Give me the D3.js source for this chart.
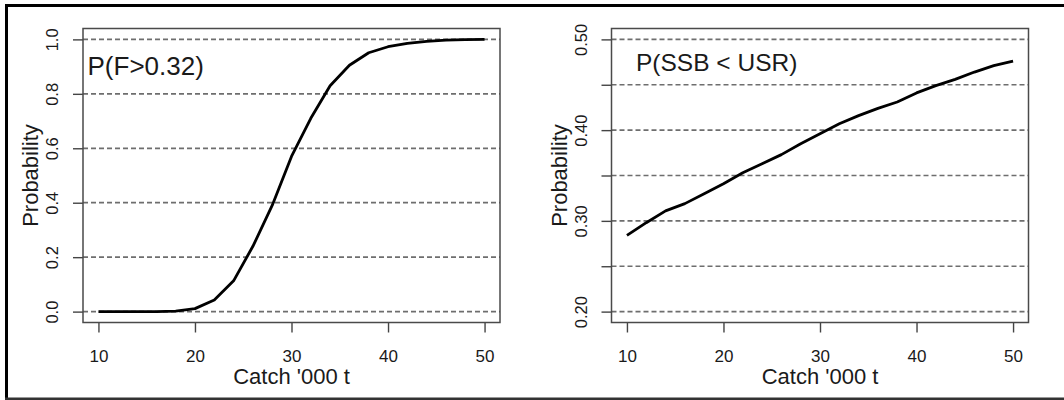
<!DOCTYPE html>
<html><head><meta charset="utf-8">
<script src="https://cdn.jsdelivr.net/npm/d3@7"></script>
<style>body{margin:0;background:#fff}svg{display:block}text{font-family:"Liberation Sans",Arial,sans-serif;fill:#1a1a1a}</style>
</head><body><svg id="c" width="1064" height="400"></svg>
<script>
const catchVals = [10,12,14,16,18,20,22,24,26,28,30,32,34,36,38,40,42,44,46,48,50];
const pF = [0,0,0,0,0.002,0.011,0.043,0.113,0.24,0.39,0.57,0.71,0.83,0.905,0.951,0.973,0.985,0.993,0.997,0.999,1.0];
const pSSB = [0.284,0.298,0.311,0.319,0.330,0.341,0.353,0.363,0.373,0.385,0.396,0.407,0.416,0.424,0.431,0.441,0.449,0.456,0.464,0.471,0.476];
const xTicks = [10,20,30,40,50];
const yTicksL = [0,0.2,0.4,0.6,0.8,1.0];
const gridL = [0,0.2,0.4,0.6,0.8,1.0];
const yTicksR = [0.20,0.25,0.30,0.35,0.40,0.45,0.50];
const yLabelsR = [0.20,0.30,0.40,0.50];
const titles = ["P(F>0.32)","P(SSB < USR)"];

const svg = d3.select("#c");
// outer frame
svg.append("line").attr("x1",5).attr("x2",1064).attr("y1",5.5).attr("y2",5.5).attr("stroke","#000").attr("stroke-width",3);
svg.append("line").attr("x1",6.5).attr("x2",6.5).attr("y1",4).attr("y2",400).attr("stroke","#000").attr("stroke-width",3);
svg.append("line").attr("x1",5).attr("x2",1064).attr("y1",398.8).attr("y2",398.8).attr("stroke","#333").attr("stroke-width",2.5);

function panel(opt){
  const {left,right,top,bottom,ydom,data,yTicks,yLabels,grid,fmt,title,tx,ty,tsize} = opt;
  const x = d3.scaleLinear().domain([8.4,51.6]).range([left,right]);
  const y = d3.scaleLinear().domain(ydom).range([bottom,top]);
  const g = svg.append("g");
  // gridlines
  g.selectAll(".grid").data(grid).enter().append("line")
    .attr("x1",left).attr("x2",right).attr("y1",d=>y(d)).attr("y2",d=>y(d))
    .attr("stroke","#6e6e6e").attr("stroke-width",1.7).attr("stroke-dasharray","5,3");
  // x axis
  const xa = g.append("g").attr("transform",`translate(0,${bottom})`)
    .call(d3.axisBottom(x).tickValues(xTicks).tickSize(10).tickSizeOuter(0).tickFormat(d3.format("d")));
  xa.select(".domain").remove();
  xa.selectAll("line").attr("stroke","#444").attr("stroke-width",1.4);
  xa.selectAll("text").attr("dy",null).attr("y",39).style("font-size","17px").attr("fill","#1a1a1a");
  // y axis
  const ya = g.append("g").attr("transform",`translate(${left},0)`)
    .call(d3.axisLeft(y).tickValues(yTicks).tickSize(10).tickSizeOuter(0).tickFormat(d=>yLabels.some(v=>Math.abs(v-d)<1e-9)?fmt(d):""));
  ya.select(".domain").remove();
  ya.selectAll("line").attr("stroke","#444").attr("stroke-width",1.4);
  ya.selectAll("text").attr("x",null).attr("dy",null)
    .attr("transform","translate(-25,0) rotate(-90)").attr("text-anchor","middle")
    .style("font-size","16.5px").attr("fill","#1a1a1a");
  // box
  g.append("rect").attr("x",left).attr("y",top).attr("width",right-left).attr("height",bottom-top)
    .attr("fill","none").attr("stroke","#4a4a4a").attr("stroke-width",1.5);
  // line
  const line = d3.line().x((d,i)=>x(catchVals[i])).y(d=>y(d));
  g.append("path").datum(data).attr("d",line).attr("fill","none").attr("stroke","#000").attr("stroke-width",2.8).attr("stroke-linejoin","round");
  // titles
  g.append("text").attr("x",(left+right)/2).attr("y",383.5).attr("text-anchor","middle").style("font-size","22px").text("Catch '000 t");
  g.append("text").attr("transform",`translate(${left-45},${(top+bottom)/2}) rotate(-90)`).attr("text-anchor","middle").style("font-size","22px").text("Probability");
  g.append("text").attr("x",tx).attr("y",ty).style("font-size",tsize).text(title);
}

panel({left:83,right:500,top:28.5,bottom:322.5,ydom:[-0.04,1.04],data:pF,yTicks:yTicksL,yLabels:yTicksL,grid:gridL,
  fmt:d3.format(".1f"),title:titles[0],tx:87.5,ty:74.5,tsize:"26px"});
panel({left:611.5,right:1028.5,top:28.5,bottom:322.5,ydom:[0.188,0.512],data:pSSB,yTicks:yTicksR,yLabels:yLabelsR,grid:yTicksR,
  fmt:d3.format(".2f"),title:titles[1],tx:636,ty:70.5,tsize:"24.5px"});
</script></body></html>
